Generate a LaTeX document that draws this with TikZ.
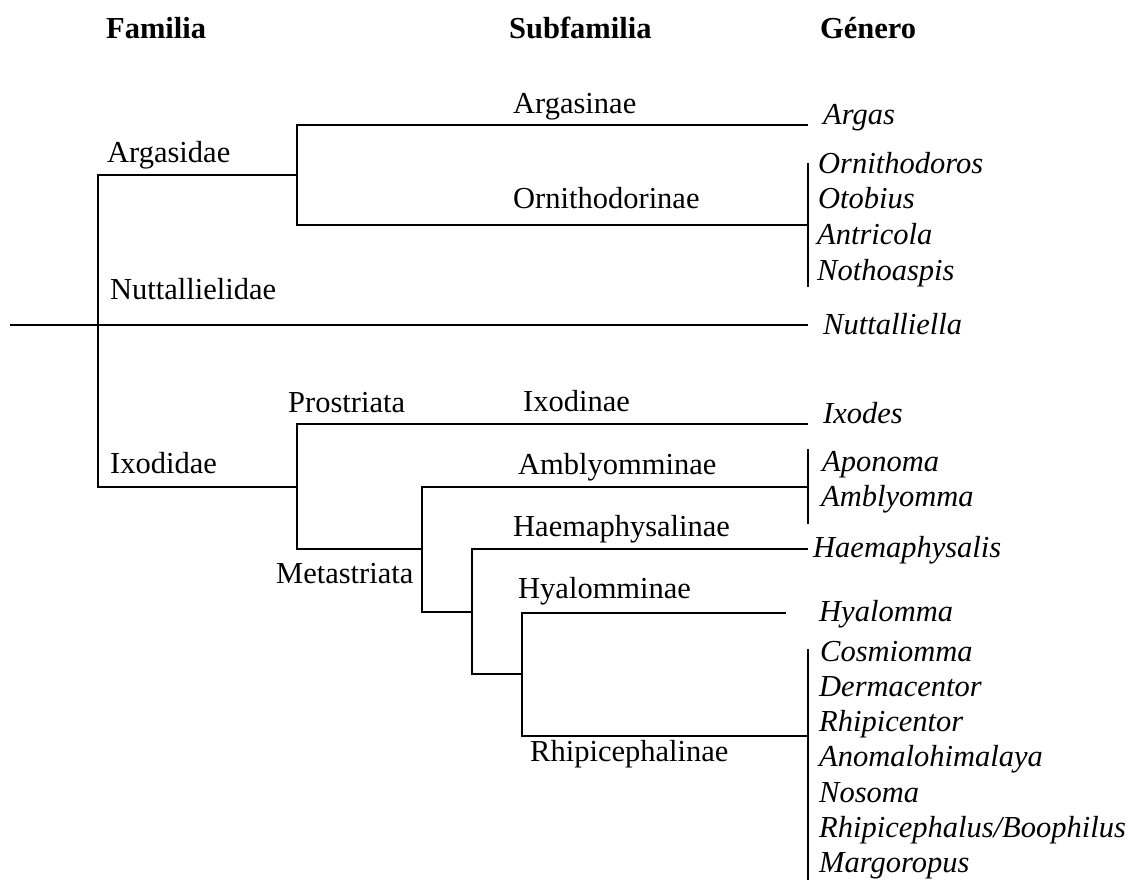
\documentclass[tikz,border=0pt]{standalone}
\usepackage{fontspec}
\setmainfont{Liberation Serif}

\begin{document}
\begin{tikzpicture}[x=1pt, y=-1pt,
    taxon/.style={anchor=base west, inner sep=0pt, font=\fontsize{30.5}{36}\selectfont},
    genus/.style={taxon, font=\fontsize{30.5}{36}\selectfont\itshape},
    head/.style={taxon, font=\fontsize{30.5}{36}\selectfont\bfseries},
    branch/.style={line width=2pt}]
    \useasboundingbox (0,0) rectangle (1131,881);

    % Column headers
    \node[head] (hFam) at (106,38) {Familia};
    \node[head] (hSub) at (509,38) {Subfamilia};
    \node[head] (hGen) at (820,38) {Género};

    % Branch points
    \coordinate (root) at (10,325);
    \coordinate (famJ) at (98,325);
    \coordinate (argS) at (297,175);
    \coordinate (ixoS) at (297,487);
    \coordinate (metaJ) at (422,549);
    \coordinate (haeJ) at (472,612);
    \coordinate (hyaJ) at (522,674);

    % Branch ends
    \coordinate (argasE) at (808,125);
    \coordinate (ornE) at (808,225);
    \coordinate (nutE) at (808,325);
    \coordinate (ixodesE) at (808,424);
    \coordinate (ambE) at (808,487);
    \coordinate (haeE) at (808,549);
    \coordinate (hyaE) at (786,613);
    \coordinate (rhiE) at (808,736);

    % Familia
    \draw[branch] (root) -- (nutE);
    \draw[branch] (argS) -| (famJ) |- (ixoS);
    \node[taxon] (lArgasidae) at (107,162) {Argasidae};
    \node[taxon] (lNuttallielidae) at (110,299) {Nuttallielidae};
    \node[taxon] (lIxodidae) at (110,473) {Ixodidae};

    % Argasidae
    \draw[branch] (argasE) -| (argS) |- (ornE);
    \node[taxon] (lArgasinae) at (513,113) {Argasinae};
    \node[taxon] (lOrnithodorinae) at (513,208) {Ornithodorinae};

    % Ixodidae: Prostriata / Metastriata
    \draw[branch] (ixodesE) -| (ixoS) |- (metaJ);
    \node[taxon] (lProstriata) at (288,412) {Prostriata};
    \node[taxon] (lMetastriata) at (276,583) {Metastriata};
    \node[taxon] (lIxodinae) at (523,411) {Ixodinae};

    % Metastriata
    \draw[branch] (ambE) -| (metaJ) |- (haeJ);
    \draw[branch] (haeE) -| (haeJ) |- (hyaJ);
    \draw[branch] (hyaE) -| (hyaJ) |- (rhiE);
    \node[taxon] (lAmblyomminae) at (518,474) {Amblyomminae};
    \node[taxon] (lHaemaphysalinae) at (513,536) {Haemaphysalinae};
    \node[taxon] (lHyalomminae) at (518,598) {Hyalomminae};
    \node[taxon] (lRhipicephalinae) at (530,761) {Rhipicephalinae};

    % Genera
    \node[genus] (gArgas) at (823,124) {Argas};
    \node[genus] (gOrnithodoros) at (818,173) {Ornithodoros};
    \node[genus] (gOtobius) at (818,208) {Otobius};
    \node[genus] (gAntricola) at (817,244) {Antricola};
    \node[genus] (gNothoaspis) at (817,280) {Nothoaspis};
    \node[genus] (gNuttalliella) at (823,334) {Nuttalliella};
    \node[genus] (gIxodes) at (823,423) {Ixodes};
    \node[genus] (gAponoma) at (822,471) {Aponoma};
    \node[genus] (gAmblyomma) at (821,506) {Amblyomma};
    \node[genus] (gHaemaphysalis) at (813,557) {Haemaphysalis};
    \node[genus] (gHyalomma) at (819,621) {Hyalomma};
    \node[genus] (gCosmiomma) at (820,661) {Cosmiomma};
    \node[genus] (gDermacentor) at (819,696) {Dermacentor};
    \node[genus] (gRhipicentor) at (819,731) {Rhipicentor};
    \node[genus] (gAnomalohimalaya) at (819,766) {Anomalohimalaya};
    \node[genus] (gNosoma) at (819,802) {Nosoma};
    \node[genus] (gRhipicephalus) at (819,837) {Rhipicephalus/Boophilus};
    \node[genus] (gMargoropus) at (819,872) {Margoropus};

    % Genus brackets
    \coordinate (ornTop) at (808,163);
    \coordinate (ornBot) at (808,287);
    \coordinate (ambTop) at (808,449);
    \coordinate (ambBot) at (808,524);
    \coordinate (rhiTop) at (808,649);
    \coordinate (rhiBot) at (808,880);
    \draw[branch] (ornTop) -- (ornBot);
    \draw[branch] (ambTop) -- (ambBot);
    \draw[branch] (rhiTop) -- (rhiBot);

\end{tikzpicture}
\end{document}
